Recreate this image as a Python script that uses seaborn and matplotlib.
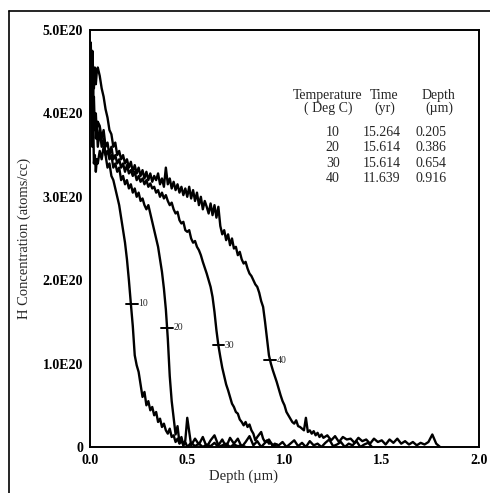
import numpy as np
import pandas as pd
import matplotlib
matplotlib.use("Agg")
import matplotlib.pyplot as plt
import seaborn as sns
from matplotlib.lines import Line2D

sns.set_theme(style="white")
plt.rcParams['font.family'] = ['Liberation Serif', 'DejaVu Serif']

# ---- data (concentration in units of 1E20 atoms/cc) ----
head = [0.000, 0.004, 0.008, 0.012, 0.016, 0.020, 0.025, 0.030, 0.035, 0.040]

d10 = head + list(np.round(np.arange(0.05, 0.505, 0.01), 3)) + list(np.round(np.arange(0.52, 0.805, 0.02), 3))
c10 = [4.3, 4.7, 4.1, 3.6, 4.0, 3.4, 3.5, 3.3, 3.45, 3.4,
       3.55, 3.45, 3.6, 3.5, 3.35, 3.4, 3.25, 3.2, 3.1, 3.0, 2.9, 2.75, 2.6, 2.45, 2.25, 2.0,
       1.72, 1.45, 1.1, 0.98, 0.9, 0.75, 0.6, 0.66, 0.5, 0.55, 0.44, 0.48, 0.38, 0.42, 0.3,
       0.34, 0.24, 0.28, 0.2, 0.16, 0.22, 0.12, 0.14, 0.06, 0.1, 0.04, 0.08, 0.02, 0.06, 0.0,
       0.05, 0.01, 0.04, 0.0, 0.03, 0.01, 0.05, 0.0, 0.02, 0.04, 0.0, 0.03, 0.01, 0.02, 0.0]

d20 = head + list(np.round(np.arange(0.05, 0.505, 0.01), 3)) + list(np.round(np.arange(0.52, 0.965, 0.02), 3))
c20 = [4.5, 4.2, 4.6, 3.9, 4.3, 3.8, 4.0, 3.7, 3.85, 3.6,
       3.8, 3.6, 3.7, 3.5, 3.55, 3.45, 3.5, 3.35, 3.4, 3.3, 3.35, 3.2, 3.25, 3.15, 3.2, 3.1,
       3.15, 3.05, 3.1, 3.0, 3.05, 2.95, 2.98, 2.9, 2.85, 2.9, 2.8, 2.7, 2.6, 2.5, 2.4, 2.25,
       2.1, 1.9, 1.65, 1.3, 0.85, 0.55, 0.35, 0.15, 0.25, 0.05, 0.12, 0.02, 0.08, 0.35,
       0.02, 0.1, 0.03, 0.12, 0.0, 0.08, 0.14, 0.02, 0.09, 0.0, 0.11, 0.04, 0.1, 0.0, 0.06,
       0.13, 0.02, 0.07, 0.0, 0.05, 0.09, 0.01, 0.03]

d30 = head + list(np.round(np.arange(0.05, 0.955, 0.01), 3)) + list(np.round(np.arange(0.97, 1.455, 0.02), 3))
c30 = [4.2, 4.6, 4.0, 4.4, 3.9, 4.2, 3.8, 4.0, 3.75, 3.9,
       3.85, 3.7, 3.8, 3.6, 3.65, 3.5, 3.6, 3.45, 3.5, 3.4, 3.45, 3.35, 3.4, 3.3, 3.38, 3.28,
       3.32, 3.25, 3.3, 3.2, 3.25, 3.18, 3.22, 3.15, 3.2, 3.12, 3.16, 3.1, 3.12, 3.05, 3.08,
       3.0, 3.05, 2.98, 3.02, 2.95, 2.9, 2.93, 2.85, 2.8, 2.82, 2.72, 2.68, 2.7, 2.6, 2.58,
       2.6, 2.5, 2.45, 2.47, 2.4, 2.36, 2.3, 2.22, 2.15, 2.08, 2.0, 1.92, 1.8, 1.62, 1.4, 1.22,
       1.08, 0.95, 0.85, 0.75, 0.68, 0.6, 0.52, 0.48, 0.42, 0.4, 0.33, 0.3, 0.26, 0.3, 0.24,
       0.27, 0.2, 0.16, 0.08, 0.12, 0.15, 0.18, 0.1, 0.06, 0.08, 0.04, 0.05, 0.02, 0.04,
       0.02, 0.06, 0.0, 0.04, 0.08, 0.01, 0.05, 0.0, 0.07, 0.02, 0.04, 0.0, 0.05, 0.09, 0.01,
       0.03, 0.06, 0.0, 0.04, 0.02, 0.07, 0.0, 0.03, 0.05, 0.0]

d40 = head + list(np.round(np.arange(0.05, 1.205, 0.01), 3)) + list(np.round(np.arange(1.22, 1.805, 0.02), 3))
c40 = [4.6, 4.85, 4.4, 4.75, 4.5, 4.3, 4.55, 4.35, 4.5, 4.55,
       4.45, 4.3, 4.2, 4.05, 3.95, 3.8, 3.75, 3.6, 3.65, 3.5, 3.55, 3.45, 3.5, 3.4, 3.45, 3.35,
       3.42, 3.3, 3.38, 3.28, 3.35, 3.25, 3.32, 3.22, 3.3, 3.2, 3.28, 3.18, 3.25, 3.2, 3.28,
       3.15, 3.22, 3.12, 3.35, 3.15, 3.22, 3.1, 3.18, 3.08, 3.15, 3.05, 3.12, 3.02, 3.1, 3.0,
       3.12, 2.98, 3.08, 2.95, 3.05, 2.9, 3.0, 2.85, 2.95, 2.88, 2.8, 2.92, 2.78, 2.9, 2.75,
       2.88, 2.65, 2.55, 2.6, 2.48, 2.55, 2.42, 2.5, 2.38, 2.4, 2.3, 2.34, 2.25, 2.2, 2.22,
       2.14, 2.08, 2.05, 2.0, 1.95, 1.92, 1.85, 1.75, 1.68, 1.5, 1.3, 1.1, 1.0, 0.92, 0.85,
       0.78, 0.7, 0.62, 0.55, 0.5, 0.42, 0.38, 0.34, 0.3, 0.28, 0.32, 0.25, 0.24, 0.22, 0.2,
       0.35, 0.18, 0.2, 0.16, 0.19, 0.14, 0.17, 0.12, 0.15, 0.11,
       0.14, 0.08, 0.13, 0.06, 0.12, 0.09, 0.1, 0.05, 0.11, 0.07, 0.09, 0.04, 0.1, 0.06, 0.08,
       0.03, 0.09, 0.05, 0.1, 0.04, 0.07, 0.03, 0.06, 0.02, 0.05, 0.03, 0.06, 0.15, 0.04, 0.0]

temps = ["10", "20", "30", "40"]
times = ["15.264", "15.614", "15.614", "11.639"]
depths = ["0.205", "0.386", "0.654", "0.916"]
# label marker positions (depth, concentration in 1E20)
mark_d = [0.215, 0.395, 0.66, 0.925]
mark_c = [1.72, 1.43, 1.22, 1.04]

xticks = [0.0, 0.5, 1.0, 1.5, 2.0]
xticklabels = ["0.0", "0.5", "1.0", "1.5", "2.0"]
yticks = [0, 1e20, 2e20, 3e20, 4e20, 5e20]
yticklabels = ["0", "1.0E20", "2.0E20", "3.0E20", "4.0E20", "5.0E20"]

frames = []
for t, d, c in zip(temps, [d10, d20, d30, d40], [c10, c20, c30, c40]):
    assert len(d) == len(c), (t, len(d), len(c))
    frames.append(pd.DataFrame({"depth": d, "conc": np.array(c) * 1e20, "temp": t}))
df = pd.concat(frames, ignore_index=True)

# ---- figure ----
fig = plt.figure(figsize=(4.9, 4.93), dpi=100)
ax = fig.add_axes([90 / 490, 1 - 447 / 493, 389 / 490, 417 / 493])

sns.lineplot(data=df, x="depth", y="conc", hue="temp", units="temp", estimator=None,
             sort=False, palette=["black"] * 4, linewidth=1.7, legend=False, ax=ax)

ax.set_xlim(0, 2.0)
ax.set_ylim(0, 5e20)
ax.set_xticks(xticks)
ax.set_xticklabels(xticklabels)
ax.set_yticks(yticks)
ax.set_yticklabels(yticklabels)
ax.set_xticks(np.arange(0, 2.01, 0.1), minor=True)
ax.set_yticks(np.arange(0, 5.01e20, 0.2e20), minor=True)

for s in ax.spines.values():
    s.set_color("black")
    s.set_linewidth(1.4)

ax.tick_params(axis="both", which="major", direction="inout", length=6, width=1.3,
               colors="black", labelsize=10, pad=2)
ax.tick_params(axis="both", which="minor", direction="inout", length=4, width=1.1, colors="black")
ax.tick_params(top=False, right=False, which="both")
for lab in ax.get_xticklabels() + ax.get_yticklabels():
    lab.set_fontweight("bold")

ax.set_xlabel("Depth (µm)", fontsize=10.5, labelpad=1)
ax.xaxis.set_label_coords(0.395, -0.055)
ax.set_ylabel("H Concentration (atoms/cc)", fontsize=10.5, labelpad=8)

# curve label markers
for t, md, mc in zip(temps, mark_d, mark_c):
    ax.plot([md - 0.03, md + 0.03], [mc * 1e20, mc * 1e20], color="black", lw=1.4)
    ax.text(md + 0.033, mc * 1e20, t, fontsize=7, va="center", ha="left")

# table in upper right
fs = 10
ax.text(0.612, 0.835, "Temperature", transform=ax.transAxes, fontsize=fs, ha="center", va="baseline")
ax.text(0.612, 0.803, "( Deg C)", transform=ax.transAxes, fontsize=fs, ha="center", va="baseline")
ax.text(0.757, 0.835, "Time", transform=ax.transAxes, fontsize=fs, ha="center", va="baseline")
ax.text(0.757, 0.803, "(yr)", transform=ax.transAxes, fontsize=fs, ha="center", va="baseline")
ax.text(0.897, 0.835, "Depth", transform=ax.transAxes, fontsize=fs, ha="center", va="baseline")
ax.text(0.897, 0.803, "(µm)", transform=ax.transAxes, fontsize=fs, ha="center", va="baseline")
row_y = [0.746, 0.710, 0.671, 0.635]
for ry, t, tm, dp in zip(row_y, temps, times, depths):
    ax.text(0.642, ry, t, transform=ax.transAxes, fontsize=fs, ha="right", va="baseline")
    ax.text(0.702, ry, tm, transform=ax.transAxes, fontsize=fs, ha="left", va="baseline")
    ax.text(0.838, ry, dp, transform=ax.transAxes, fontsize=fs, ha="left", va="baseline")

# outer frame of the scanned figure
fig.add_artist(Line2D([9 / 490, 9 / 490], [0, 1 - 11 / 493], transform=fig.transFigure,
                      color="black", lw=1.2))
fig.add_artist(Line2D([9 / 490, 1], [1 - 11 / 493, 1 - 11 / 493], transform=fig.transFigure,
                      color="black", lw=1.2))

fig.savefig("out.png", dpi=100)
